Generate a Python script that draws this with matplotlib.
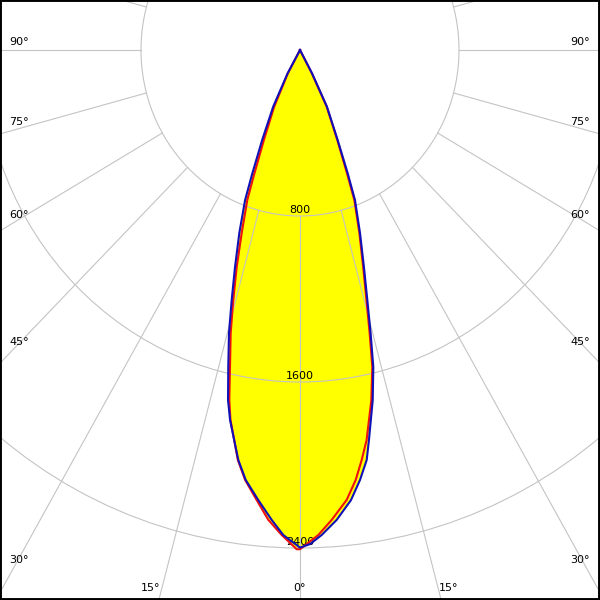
import numpy as np
import matplotlib
matplotlib.use('Agg')
import matplotlib.pyplot as plt
import matplotlib.patches as patches

# Light distribution curves (cd); angle from nadir in degrees
blue_left_ang = [0, 2.06, 3.6, 5.53, 7.51, 8.93, 10.0, 11.17, 12.12, 13.29, 14.68, 15.92,
                 17.36, 19.1, 20.9, 21.9, 23.7, 26.3, 29.0, 31.0]
blue_left_cd = [2398, 2339, 2269, 2179, 2090, 2000, 1908, 1817, 1725, 1570, 1410, 1253,
                1096, 933, 775, 650, 473, 304, 129, 0]
blue_right_ang = [0, 1.2, 2.67, 4.66, 6.75, 8.29, 9.64, 10.46, 12.24, 13.57, 14.6,
                  15.7, 17.1, 18.9, 20.94, 22.0, 23.6, 26.4, 28.3, 30.5]
blue_right_cd = [2398, 2382, 2340, 2272, 2184, 2094, 2004, 1911, 1726, 1572, 1409,
                 1252, 1094, 932, 774, 640, 473, 304, 127, 0]
red_left_ang = [0, 0.4, 2.26, 4.03, 5.74, 7.6, 9.0, 10.0, 11.1, 11.9, 12.98, 14.34, 15.57,
                16.94, 18.4, 20.14, 21.0, 22.7, 25.4, 28.5, 30.5]
red_left_cd = [2406, 2406, 2339, 2270, 2180, 2090, 2000, 1908, 1817, 1725, 1568, 1408, 1251,
               1093, 929, 770, 650, 473, 304, 129, 0]
red_right_ang = [0, 2.26, 4.03, 6.18, 7.7, 8.93, 10.1, 12.0, 13.4, 14.4, 15.5,
                 16.9, 18.7, 20.7, 21.7, 23.4, 26.2, 28.0, 30.3]
red_right_cd = [2406, 2339, 2270, 2181, 2091, 2000, 1910, 1726, 1570, 1409, 1252,
                1094, 932, 774, 640, 473, 304, 127, 0]

ring_values = [800, 1600, 2400, 3200]
ring_labels = [800, 1600, 2400]
spoke_step = 15

# angle labels: (text, x pixel, y pixel, ha)
angle_labels = [
    ('90°', 9, 42, 'left'), ('75°', 9, 122, 'left'), ('60°', 9, 215, 'left'),
    ('45°', 9, 342, 'left'), ('30°', 9, 560, 'left'),
    ('90°', 590, 42, 'right'), ('75°', 590, 122, 'right'), ('60°', 590, 215, 'right'),
    ('45°', 590, 342, 'right'), ('30°', 590, 560, 'right'),
    ('15°', 151, 588, 'center'), ('0°', 299, 588, 'center'), ('15°', 449, 588, 'center'),
]

# pixel scale: 800 cd = 159 px horizontally, 166 px vertically; centre at (300, 50)
sx = 800 / 159
sy = 800 / 166


def to_xy(ang_deg, vals, side):
    a = np.radians(np.asarray(ang_deg, dtype=float))
    v = np.asarray(vals, dtype=float)
    return side * v * np.sin(a), -v * np.cos(a)


def outline(la, lv, ra, rv):
    xl, yl = to_xy(la, lv, -1)
    xr, yr = to_xy(ra, rv, 1)
    x = np.concatenate([xl[::-1], xr])
    y = np.concatenate([yl[::-1], yr])
    return x, y


fig = plt.figure(figsize=(6, 6), dpi=100)
ax = fig.add_axes([0, 0, 1, 1])
ax.set_xlim(-300 * sx, 300 * sx)
ax.set_ylim(-550 * sy, 50 * sy)
ax.set_xticks([])
ax.set_yticks([])
for s in ax.spines.values():
    s.set_linewidth(2.8)
    s.set_color('black')

grid_col = '#c4c4c4'

bx, by = outline(blue_left_ang, blue_left_cd, blue_right_ang, blue_right_cd)
rx, ry = outline(red_left_ang, red_left_cd, red_right_ang, red_right_cd)
ax.fill(bx, by, color='#ffff00', lw=0, zorder=1)
ax.fill(rx, ry, color='#ffff00', lw=0, zorder=1)

# grid rings and spokes
for r in ring_values:
    ax.add_patch(patches.Circle((0, 0), r, fill=False, ec=grid_col, lw=0.8, zorder=2))
for a in range(0, 360, spoke_step):
    t = np.radians(a)
    ax.plot([800 * np.sin(t), 6000 * np.sin(t)], [-800 * np.cos(t), -6000 * np.cos(t)],
            color=grid_col, lw=0.8, zorder=2)

for v in ring_labels:
    ax.annotate(str(v), (0, -v), xytext=(0, 1), textcoords='offset points',
                ha='center', va='bottom', fontsize=8, zorder=3)

for txt, px, py, ha in angle_labels:
    ax.text(px / 600, 1 - py / 600, txt, transform=ax.transAxes,
            ha=ha, va='center', fontsize=8, zorder=3)

ax.plot(rx, ry, color='#f01010', lw=1.5, zorder=4, solid_joinstyle='round')
ax.plot(bx, by, color='#1010b8', lw=1.5, zorder=5, solid_joinstyle='round')

fig.savefig('out.png', dpi=100)
